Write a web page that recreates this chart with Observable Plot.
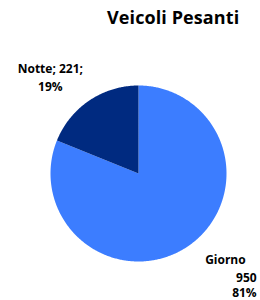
<!DOCTYPE html>
<html><head><meta charset="utf-8">
<script src="https://cdn.jsdelivr.net/npm/d3@7"></script>
<script src="https://cdn.jsdelivr.net/npm/@observablehq/plot@0.6"></script>
<style>
body{margin:0;background:#fff;}
#title{height:34px;width:260px;box-sizing:border-box;padding-left:107px;padding-top:1px;font:bold 18px "Open Sans",sans-serif;line-height:32px;color:#000;white-space:nowrap;letter-spacing:0.1px;}
</style></head>
<body>
<div id="title">Veicoli Pesanti</div>
<div id="chart"></div>
<script>
const categories = ["Giorno", "Notte"];
const values = [950, 221];
const percents = ["81%", "19%"];
const colors = ["#3C7DFF", "#002A80"];

const pie = d3.pie().sort(null).value(d => d.value)(categories.map((c, i) => ({category: c, value: values[i]})));

// polygon vertices for each slice on unit circle (angle clockwise from top)
const pts = [];
pie.forEach(s => {
  const n = Math.max(2, Math.ceil((s.endAngle - s.startAngle) / 0.01));
  pts.push({category: s.data.category, x: 0, y: 0});
  for (let k = 0; k <= n; k++) {
    const a = s.startAngle + (s.endAngle - s.startAngle) * k / n;
    pts.push({category: s.data.category, x: Math.sin(a), y: Math.cos(a)});
  }
  pts.push({category: s.data.category, x: 0, y: 0});
});

const R = 88, cx = 138, cy = 139, W = 260, H = 266;
const mid = s => (s.startAngle + s.endAngle) / 2;
const anchor = i => ({x: Math.sin(mid(pie[i])), y: Math.cos(mid(pie[i]))});

const notte = [{...anchor(1), text: `${categories[1]}; ${values[1]};\n${percents[1]}`}];
const giornoName = [{...anchor(0), text: categories[0]}];
const giornoVals = [{...anchor(0), text: `${values[0]}\n${percents[0]}`}];

const plot = Plot.plot({
  width: W, height: H,
  margin: 0,
  x: {domain: [-cx / R, (W - cx) / R], axis: null},
  y: {domain: [-(H - cy) / R, cy / R], axis: null},
  color: {domain: categories, range: colors},
  style: {fontFamily: "'Open Sans', sans-serif", background: "#fff"},
  marks: [
    Plot.line(pts, {x: "x", y: "y", z: "category", fill: "category", stroke: null, curve: "linear"}),
    Plot.text(notte, {x: "x", y: "y", text: "text", fontWeight: "bold", fontSize: 12, lineHeight: 1.45, textAnchor: "middle", lineAnchor: "bottom", dx: -39, dy: -10, fill: "#000"}),
    Plot.text(giornoName, {x: "x", y: "y", text: "text", fontWeight: "bold", fontSize: 12, textAnchor: "end", lineAnchor: "top", dx: 58, dy: 9, fill: "#000"}),
    Plot.text(giornoVals, {x: "x", y: "y", text: "text", fontWeight: "bold", fontSize: 12, lineHeight: 1.3, textAnchor: "end", lineAnchor: "top", dx: 69, dy: 24, fill: "#000"})
  ]
});
document.getElementById("chart").appendChild(plot);
</script>
</body></html>
